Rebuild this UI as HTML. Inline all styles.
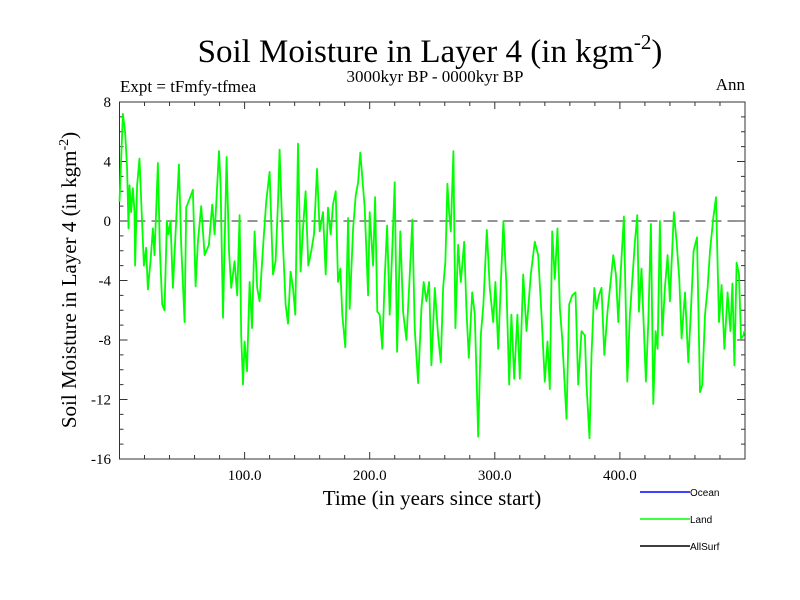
<!DOCTYPE html>
<html><head><meta charset="utf-8"><style>
body{margin:0;background:#fff;}
svg{display:block;font-family:"Liberation Serif",serif;}
</style></head><body>
<svg id="chart" width="800" height="600" viewBox="0 0 800 600" xmlns="http://www.w3.org/2000/svg">
<rect width="800" height="600" fill="#fff"/>
<text x="430" y="62" font-size="33" text-anchor="middle">Soil Moisture in Layer 4 (in kgm<tspan dy="-13" font-size="21">-2</tspan><tspan dy="13">)</tspan></text>
<text x="435" y="82" font-size="17" text-anchor="middle">3000kyr BP - 0000kyr BP</text>
<text x="120" y="92" font-size="17">Expt = tFmfy-tfmea</text>
<text x="745" y="90" font-size="17" text-anchor="end">Ann</text>
<text transform="translate(76,280) rotate(-90)" font-size="21" text-anchor="middle">Soil Moisture in Layer 4 (in kgm<tspan dy="-8" font-size="14">-2</tspan><tspan dy="8">)</tspan></text>
<text x="432" y="505" font-size="21" text-anchor="middle">Time (in years since start)</text>
<g id="axes"></g>
<g id="plot"></g>
<g font-family="Liberation Sans, sans-serif" font-size="10">
<g><line x1="640" y1="492" x2="690" y2="492" stroke="#0000ff" stroke-width="1.5"/><text x="690" y="496">Ocean</text></g>
<g><line x1="640" y1="519" x2="690" y2="519" stroke="#00ff00" stroke-width="1.5"/><text x="690" y="523">Land</text></g>
<g><line x1="640" y1="546" x2="690" y2="546" stroke="#000" stroke-width="1.5"/><text x="690" y="550">AllSurf</text></g>
</g>
</svg>
<script>
const years = [0,2.7,4.5,6.1,7.2,8,9.3,10.7,12,12.5,14.1,16,17.9,19.5,21.3,22.7,24.8,26.7,28,30.7,32.3,34.1,36,37.9,39.2,40.8,42.7,44.8,47.5,49.3,52,53.3,56,58.7,60.8,62.7,65.3,68,71.5,74.1,76,79.5,80.8,82.7,85.6,87.5,89.3,92,94.1,96,97.3,98.7,100,101.9,104,105.9,108,110.1,112,114.7,117.3,120,
122.7,124.8,126.7,128,130.1,132.8,134.7,136.8,138.7,140.5,142.7,144.8,146.7,148.8,150.9,153.3,155.5,157.9,160,162.7,164.8,166.7,168.8,170.7,172.8,174.7,176.5,178.1,180.5,182.7,184,186.7,188.8,190.7,192.5,196,198.7,200,202.7,204.3,206.1,208,210.1,212,213.9,216,218.1,220,221.9,224.5,226.7,229.3,231.5,234.1,236,238.7,241.3,243.2,245.3,247.5,
249.3,252,254.7,256.8,258.7,260.5,262.1,263.5,264.8,266.9,268.5,270.7,272.8,275.5,277.3,279.2,281.9,284,286.7,288.8,290.9,293.6,296,298.7,300.5,302.7,304.8,306.9,309.3,311.5,313.3,315.5,318.1,320,322.7,325.3,328.8,332,334.7,337.3,340,342.1,344,345.9,348,350.1,352,353.9,357.3,359.5,361.9,364.5,366.7,369.3,
372,373.3,375.7,377.3,379.5,381.3,383.2,385.3,387.5,390.1,392.8,394.7,396.8,398.7,400.8,403.2,405.9,408,410.7,412,413.9,415.2,417.3,420.8,422.7,424.8,426.7,428.5,430.1,432,433.9,436,438.1,440,443.2,445.3,447.5,449.3,452,454.7,456.8,458.9,461.6,464,465.9,468,470.1,472,474.7,476.8,479.2,481.3,483.5,486.1,488.3,489.9,491.5,493.3,495.2,496.8,498.7,499.5];
const landValues = [1.3,7.2,6,3.5,-0.5,2.4,0.6,2.2,0.6,-3,2.4,4.2,0.2,-3,-1.8,-4.6,-2.7,-0.5,-2.3,3.9,-2,-5.6,-6,0,-0.9,0,-4.5,-0.9,3.8,-1.6,-6.8,0.9,1.5,2.1,-4.4,-1.4,1,-2.3,-1.6,1.1,-0.9,4.7,2.4,-6.5,4.3,-2,-4.5,-2.7,-5,0.4,-7.7,-11,-8.1,-10.1,-4.1,-7.2,-0.7,-4.5,-5.4,-1.8,1.3,3.3,
-3.6,-2.7,1.3,4.8,-0.5,-5.6,-6.9,-3.4,-4.5,-6.3,5.2,-3.4,-0.5,2,-3,-2,-0.9,3.5,-0.7,0.6,-3.6,0.9,-0.9,1.1,2,-4.1,-3.2,-6.3,-8.5,0.2,-5.9,-0.5,1.7,2.6,4.6,0.9,-5,0.6,-3,1.6,-6.1,-6.3,-8.6,-3.9,-0.3,-6.3,-1.8,2.6,-8.8,-0.7,-6.1,-8,-4.5,0.1,-7.2,-10.9,-5.9,-4.1,-5.4,-4.1,
-9.7,-4.5,-7.7,-9.5,-4.5,-2.7,2.5,0.6,-0.7,4.7,-7.2,-1.6,-4.1,-1.4,-5.9,-9.2,-4.8,-6.3,-14.5,-7.7,-5.6,-0.6,-4.5,-6.8,-4.1,-8.6,-4.3,0,-4.3,-11,-6.3,-10.6,-6.3,-10.6,-3.6,-7.4,-3.6,-1.4,-2.3,-6.3,-10.8,-8.1,-11.3,-0.7,-3.9,-0.5,-5.9,-7.9,-13.3,-5.6,-5,-4.8,-11,-7.4,
-7.7,-11,-14.6,-9,-4.5,-5.9,-5,-4.5,-9,-6.1,-3.9,-2.3,-3.6,-6.8,-3.2,0.3,-10.8,-6.3,-3,-1.4,0.4,-6.1,-3.2,-10.8,-6.8,-0.2,-12.3,-7.4,-8.6,0,-7.7,-4.5,-2.3,-5.4,0.6,-1.4,-3.9,-7.9,-4.8,-9.5,-5.9,-2,-1.1,-11.5,-11,-6.3,-4.5,-2,0.2,1.6,-6.8,-4.3,-8.6,-4.8,-7.4,-4.2,-9.7,-2.8,-3.6,-7.9,-7.7,-7.4];
const xTickValues = [100,200,300,400];
const xTickLabels = ["100.0","200.0","300.0","400.0"];
const yTickValues = [-16,-12,-8,-4,0,4,8];
const yTickLabels = ["-16","-12","-8","-4","0","4","8"];

const NS = "http://www.w3.org/2000/svg";
const L = 119.5, R = 745, T = 102, B = 459;
const xMin = 0, xMax = 500, yMin = -16, yMax = 8;
function xs(v){ return L + (v - xMin) / (xMax - xMin) * (R - L); }
function ys(v){ return B - (v - yMin) / (yMax - yMin) * (B - T); }
function mk(tag, attrs, parent){ const e = document.createElementNS(NS, tag); for (const k in attrs) e.setAttribute(k, attrs[k]); parent.appendChild(e); return e; }

const axes = document.getElementById('axes');
const plot = document.getElementById('plot');

const zl = mk('line', {x1: L, x2: R, y1: ys(0), y2: ys(0), stroke: '#555', 'stroke-width': 1.3, 'stroke-dasharray': '10,6'}, plot);



let d = '';
for (let i = 0; i < years.length; i++) d += (i ? 'L' : 'M') + xs(years[i]).toFixed(1) + ',' + ys(landValues[i]).toFixed(1);
const line = mk('path', {d: d, fill: 'none', stroke: '#00ff00', 'stroke-width': 1.8, 'stroke-linejoin': 'round'}, plot);



const fr = mk('rect', {x: L, y: T, width: R - L, height: B - T, fill: 'none', stroke: '#333', 'stroke-width': 1}, axes);



for (let v = 20; v < 500; v += 20) {
  const major = v % 100 === 0;
  const len = major ? 7 : 4;
  mk('line', {x1: xs(v), x2: xs(v), y1: B, y2: B - len, stroke: '#333'}, axes);
  mk('line', {x1: xs(v), x2: xs(v), y1: T, y2: T + len, stroke: '#333'}, axes);
}
for (let v = -15; v < 8; v++) {
  const major = v % 4 === 0;
  const len = major ? 8 : 4;
  mk('line', {x1: L, x2: L + len, y1: ys(v), y2: ys(v), stroke: '#333'}, axes);
  mk('line', {x1: R, x2: R - len, y1: ys(v), y2: ys(v), stroke: '#333'}, axes);
}
xTickValues.forEach((v, i) => {
  const t = mk('text', {x: xs(v), y: 480, 'font-size': 15, 'text-anchor': 'middle'}, axes);
  t.textContent = xTickLabels[i];
  
  
});
yTickValues.forEach((v, i) => {
  const t = mk('text', {x: 111, y: ys(v) + 5, 'font-size': 15, 'text-anchor': 'end'}, axes);
  t.textContent = yTickLabels[i];
  
  
});
</script>
</body></html>
